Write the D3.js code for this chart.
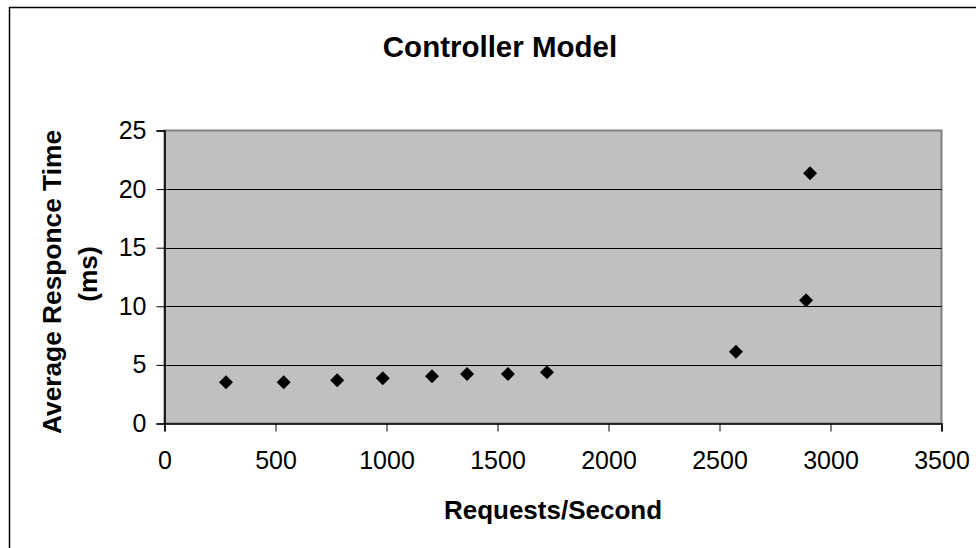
<!DOCTYPE html>
<html>
<head>
<meta charset="utf-8">
<script src="https://cdn.jsdelivr.net/npm/d3@7"></script>
<style>
  html, body { margin: 0; padding: 0; background: #fff; }
  svg { display: block; }
  text { font-family: "Liberation Sans", Arial, sans-serif; fill: #000; }
</style>
</head>
<body>
<svg id="chart" width="976" height="548"></svg>
<script>
// Measured throughput (requests/second) and average response time (ms)
const requestsPerSecond = [277, 537, 778, 983, 1205, 1363, 1547, 1723, 2574, 2890, 2908];
const responseTimeMs    = [3.52, 3.52, 3.69, 3.86, 4.03, 4.22, 4.22, 4.37, 6.13, 10.51, 21.35];
const xTicks = [0, 500, 1000, 1500, 2000, 2500, 3000, 3500];
const yTicks = [0, 5, 10, 15, 20, 25];

const chartTitle = "Controller Model";
const xTitle = "Requests/Second";
const yTitleLines = ["Average Responce Time", "(ms)"];

const svg = d3.select("#chart");

// Outer chart frame: only the left and top edges fall inside the canvas
svg.append("path")
  .attr("d", "M9.5,548V7.5H976")
  .attr("fill", "none")
  .attr("stroke", "#000")
  .attr("stroke-width", 1.5);

const plot = { left: 164.5, right: 941.5, top: 130.5, bottom: 423.5 };

const x = d3.scaleLinear().domain([0, 3500]).range([plot.left, plot.right]);
const y = d3.scaleLinear().domain([0, 25]).range([plot.bottom, plot.top]);

// Plot area background with grey top/right border
svg.append("rect")
  .attr("x", plot.left).attr("y", plot.top)
  .attr("width", plot.right - plot.left)
  .attr("height", plot.bottom - plot.top)
  .attr("fill", "#c0c0c0")
  .attr("stroke", "#808080")
  .attr("stroke-width", 2);

// Horizontal gridlines
svg.append("g")
  .selectAll("line")
  .data(yTicks.filter(d => d > 0 && d < 25))
  .join("line")
  .attr("x1", plot.left).attr("x2", plot.right)
  .attr("y1", d => Math.round(y(d)) + 0.5)
  .attr("y2", d => Math.round(y(d)) + 0.5)
  .attr("stroke", "#000")
  .attr("stroke-width", 1);

// Axes
const xAxis = d3.axisBottom(x).tickValues(xTicks).tickSize(8).tickPadding(20).tickFormat(d3.format("d"));
const yAxis = d3.axisLeft(y).tickValues(yTicks).tickSize(8).tickPadding(10).tickFormat(d3.format("d"));

const gx = svg.append("g").attr("transform", `translate(0,${plot.bottom})`).call(xAxis);
const gy = svg.append("g").attr("transform", `translate(${plot.left},0)`).call(yAxis);

[gx, gy].forEach(g => {
  g.select(".domain").attr("stroke", "#000").attr("stroke-width", 1.6);
  g.selectAll(".tick line").attr("stroke", "#000").attr("stroke-width", 1);
  g.selectAll(".tick text")
    .attr("font-family", "Liberation Sans, Arial, sans-serif")
    .attr("font-size", 25)
    .attr("fill", "#000");
});
gx.selectAll(".tick text").attr("dy", "0.71em");

// Diamond markers
const diamond = r => `M0,${-r}L${r},0L0,${r}L${-r},0Z`;
svg.append("g")
  .selectAll("path")
  .data(requestsPerSecond.map((v, i) => [v, responseTimeMs[i]]))
  .join("path")
  .attr("transform", d => `translate(${x(d[0])},${y(d[1])})`)
  .attr("d", diamond(7))
  .attr("fill", "#000");

// Titles
svg.append("text")
  .attr("x", 500).attr("y", 56.5)
  .attr("text-anchor", "middle")
  .attr("font-size", 29.5)
  .attr("font-weight", "bold")
  .text(chartTitle);

svg.append("text")
  .attr("x", 553).attr("y", 519)
  .attr("text-anchor", "middle")
  .attr("font-size", 26)
  .attr("font-weight", "bold")
  .text(xTitle);

const yTitle = svg.append("text")
  .attr("transform", "translate(0,282) rotate(-90)")
  .attr("text-anchor", "middle")
  .attr("font-size", 26.3)
  .attr("font-weight", "bold");
yTitle.selectAll("tspan")
  .data(yTitleLines)
  .join("tspan")
  .attr("x", (d, i) => i * 8)
  .attr("y", (d, i) => 61 + i * 36)
  .text(d => d);
</script>
</body>
</html>
